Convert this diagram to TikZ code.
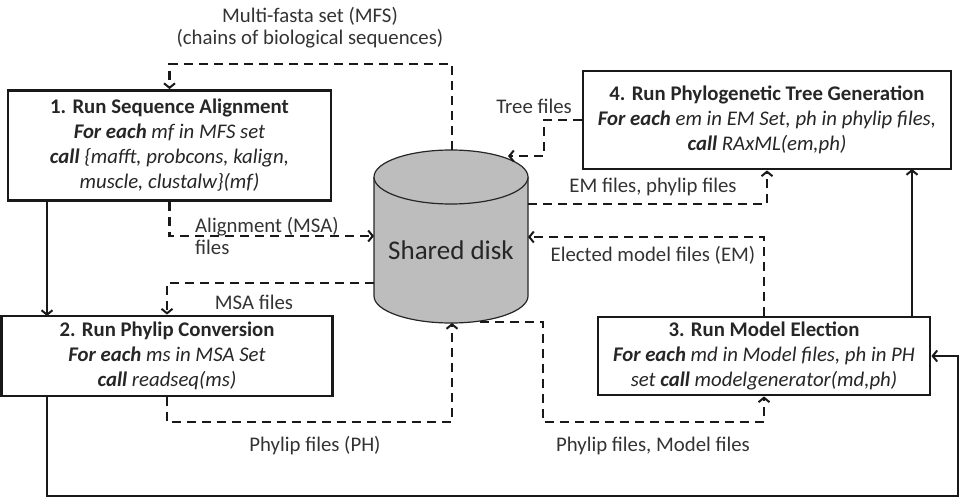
\documentclass[tikz,border=0pt]{standalone}
\usepackage{fontspec}
\setmainfont{Carlito}
\usetikzlibrary{arrows.meta}
\begin{document}
\begin{tikzpicture}[x=1pt,y=-1pt,
  box/.style={draw=black!90, line width=2.8pt, fill=white, align=center, inner sep=0pt,
    font=\fontsize{20.8}{25}\selectfont, text=black!85},
  lbl/.style={font=\fontsize{20.8}{22}\selectfont, text=black!80, inner sep=0pt},
  dl/.style={line width=2.6pt, dash pattern=on 9pt off 6pt, black!90},
  sl/.style={line width=2.6pt, black!90},
  tip/.style={-{Straight Barb[length=4.5pt,width=11pt,line width=2pt]}}]
\useasboundingbox (0,0) rectangle (966,498);

% cylinder
\fill[gray!52] (374,177) -- (374,296) arc[start angle=180,end angle=360,x radius=77pt,y radius=27pt] -- (528,177) -- cycle;
\draw[line width=1.2pt, black!85] (374,177) -- (374,296) arc[start angle=180,end angle=360,x radius=77pt,y radius=27pt] -- (528,177);
\draw[line width=1.2pt, black!85, fill=gray!52] (451,177) ellipse[x radius=77pt,y radius=27pt];
\node[font=\fontsize{27}{30}\selectfont, text=black!85] (disk) at (451,250) {Shared disk};

% cylinder anchor coordinates
\coordinate (cTop) at (452,150);
\coordinate (cL1) at (374,236);
\coordinate (cL2) at (374,283);
\coordinate (cBot) at (452,323);
\coordinate (cBR) at (480,322);
\coordinate (cR1) at (528,237);
\coordinate (cR2) at (528,204);
\coordinate (cTR) at (508,156);

% boxes
\node[box, minimum width=323pt, minimum height=110pt] (b1) at (169.5,145.5)
  {\textbf{1. Run Sequence Alignment}\\
   \textbf{\textit{For each}} \textit{mf in MFS set}\\
   \textbf{\textit{call}} \textit{\{mafft, probcons, kalign,}\\
   \textit{muscle, clustalw\}(mf)}};
\node[box, minimum width=331pt, minimum height=80pt] (b2) at (167,356)
  {\textbf{2. Run Phylip Conversion}\\
   \textbf{\textit{For each}} \textit{ms in MSA Set}\\
   \textbf{\textit{call}} \textit{readseq(ms)}};
\node[box, minimum width=332pt, minimum height=78pt] (b3) at (764,356)
  {\textbf{3. Run Model Election}\\
   \textbf{\textit{For each}} \textit{md in Model files, ph in PH}\\
   \textit{set} \textbf{\textit{call}} \textit{modelgenerator(md,ph)}};
\node[box, minimum width=368pt, minimum height=98pt] (b4) at (767,120)
  {\textbf{4. Run Phylogenetic Tree Generation}\\
   \textbf{\textit{For each}} \textit{em in EM Set, ph in phylip files,}\\
   \textbf{\textit{call}} \textit{RAxML(em,ph)}};

% helper coordinates
\coordinate (mfsC) at (452,64);
\coordinate (s1a) at (47,200.5);
\coordinate (s1b) at (47,316);
\coordinate (s2a) at (47,396);
\coordinate (s2b) at (47,496);
\coordinate (s2c) at (958,356);
\coordinate (phC) at (452,422);
\coordinate (pmA) at (543,422);
\coordinate (trA) at (544,156);
\coordinate (s3a) at (912,317);
\coordinate (s3b) at (912,169);

% dashed connectors
\draw[dl,tip] (cTop) -- (mfsC) -| (b1.north);
\draw[dl,tip] (b1.south) |- (cL1);
\draw[dl,tip] (cL2) -| (b2.north);
\draw[dl,tip] (b2.south) |- (phC) -- (cBot);
\draw[dl,tip] (cBR) -| (pmA) -| (b3.south);
\draw[dl,tip] (b3.north) |- (cR1);
\draw[dl,tip] (cR2) -| (b4.south);
\draw[dl,tip] (b4.west) -| (trA) -- (cTR);

% solid connectors
\draw[sl,tip] (s1a) -- (s1b);
\draw[sl,tip] (s2a) -- (s2b) -| (s2c) -- (b3.east);
\draw[sl,tip] (s3a) -- (s3b);

% labels
\node[lbl, align=center] (lmfs) at (310,28) {Multi-fasta set (MFS)\\(chains of biological sequences)};
\node[lbl, align=left, anchor=west] (laln) at (195,236) {Alignment (MSA)\\files};
\node[lbl] (lmsa) at (254,302) {MSA files};
\node[lbl] (lph) at (315,446) {Phylip files (PH)};
\node[lbl] (lpm) at (653,446) {Phylip files, Model files};
\node[lbl] (lem) at (653,255) {Elected model files (EM)};
\node[lbl] (lemf) at (653,187) {EM files, phylip files};
\node[lbl, anchor=east] (ltree) at (572,106) {Tree files};
\end{tikzpicture}
\end{document}
